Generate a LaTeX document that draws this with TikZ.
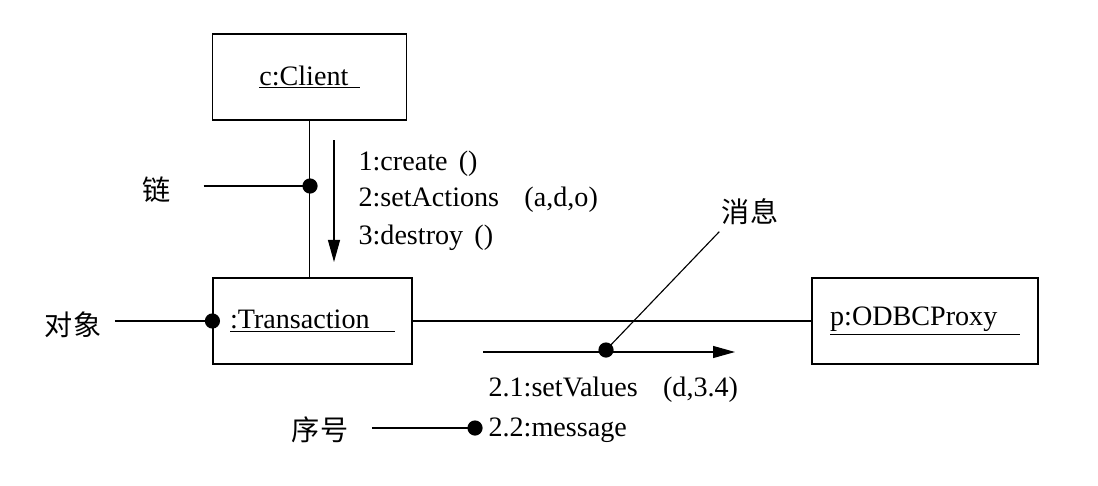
\documentclass[tikz,border=0pt]{standalone}
\usepackage{fontspec}
\setmainfont{Liberation Serif}
\newfontfamily\cjk{Noto Sans CJK SC}
\usetikzlibrary{positioning}
\usetikzlibrary{arrows.meta}

\tikzset{
  objbox/.style={draw, minimum width=#1, minimum height=2.15cm, inner sep=0pt},
  jointdot/.style={circle, fill=black, inner sep=0pt, minimum size=0.38cm},
  lbl/.style={font=\fontsize{20}{24}\selectfont, inner sep=0pt},
  cjklbl/.style={font=\fontsize{20}{24}\selectfont\cjk, inner sep=0pt},
  msgarrow/.style={-{Triangle[length=0.55cm,width=0.3cm]}}
}

\begin{document}
\begin{tikzpicture}[x=0.025cm, y=-0.025cm, line width=0.8pt]
      \useasboundingbox (0,0) rectangle (1098,486);
      % objects
      \node[objbox=4.83cm, lbl] (client) at (309.5,77) {\underline{c:Client\hspace{0.4em}}};
      \node[objbox=4.975cm, lbl] (trans) at (312.5,321) {\underline{:Transaction\hspace{0.9em}}};
      \node[objbox=5.65cm, lbl] (proxy) at (925,321) {\underline{p:ODBCProxy\hspace{0.8em}}};
      % links
      \draw (client.south) -- (client.south |- trans.north);
      \draw (trans.east) -- (proxy.west);
      % messages client -> transaction
      \coordinate (down top) at (334,140);
      \coordinate (down end) at (334,262);
      \draw[msgarrow] (down top) -- (down end);
      \node[lbl, anchor=west] (create) at (358,164) {1:create\hspace{0.4em}()};
      \node[lbl, anchor=west] (actions) at (358,200) {2:setActions\hspace{0.9em}(a,d,o)};
      \node[lbl, anchor=west] (destroy) at (358,238) {3:destroy\hspace{0.4em}()};
      % messages transaction -> proxy
      \coordinate (sv start) at (483,352);
      \coordinate (sv end) at (735,352);
      \draw[msgarrow] (sv start) -- (sv end);
      \node[lbl, anchor=west] (setvalues) at (488,390) {2.1:setValues\hspace{0.9em}(d,3.4)};
      \node[lbl, anchor=west] (message) at (488,430) {2.2:message};
      % callouts
      \node[jointdot] (linkdot) at (310,186) {};
      \node[cjklbl] (lian) at (157,190) {链};
      \draw ([xshift=0.8cm]lian.east |- linkdot.center) -- (linkdot.center);
      \node[jointdot] (objdot) at (trans.west) {};
      \node[cjklbl] (duixiang) at (73,325) {对象};
      \draw ([xshift=0.33cm]duixiang.east |- objdot.center) -- (objdot.center);
      \node[jointdot] (msgdot) at (606,350) {};
      \node[cjklbl] (xiaoxi) at (750,212) {消息};
      \draw (msgdot.center) -- ([xshift=-0.05cm,yshift=-0.15cm]xiaoxi.south west);
      \node[jointdot] (seqdot) at (475,428) {};
      \node[cjklbl] (xuhao) at (320,430) {序号};
      \draw ([xshift=0.58cm]xuhao.east |- seqdot.center) -- (seqdot.center);
\end{tikzpicture}
\end{document}
